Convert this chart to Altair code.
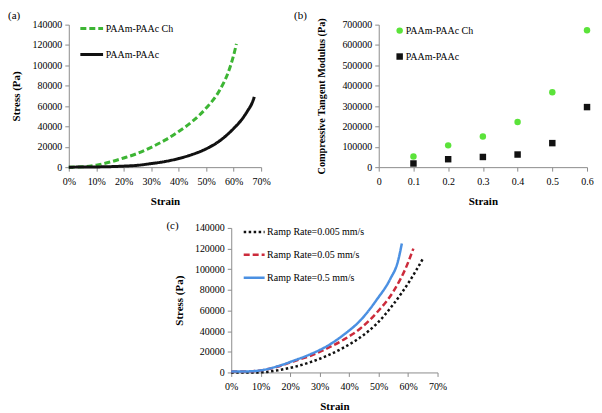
import altair as alt
import pandas as pd

FONT = "Liberation Serif"

# ---------- Panel (a): stress-strain ----------
a_series = ["PAAm-PAAc Ch", "PAAm-PAAc"]
a_ch_strain = [0, 0.05, 0.10, 0.15, 0.20, 0.25, 0.30, 0.35, 0.40, 0.45, 0.50, 0.55, 0.58, 0.60, 0.61]
a_ch_stress = [0, 300, 2000, 5000, 9000, 13500, 19500, 26500, 35000, 45000, 58000, 76000, 93000, 110000, 121000]
a_pl_strain = [0, 0.10, 0.20, 0.25, 0.30, 0.35, 0.40, 0.45, 0.50, 0.55, 0.60, 0.63, 0.65, 0.67, 0.675]
a_pl_stress = [0, 200, 1000, 1800, 3500, 5500, 8500, 12500, 18000, 26000, 38000, 47000, 55000, 65000, 69000]

# ---------- Panel (b): compressive tangent modulus ----------
b_strain = [0.1, 0.2, 0.3, 0.4, 0.5, 0.6]
b_ch_mod = [52000, 107000, 151000, 222000, 368000, 672000]
b_pl_mod = [18000, 39000, 50000, 62000, 118000, 295000]

# ---------- Panel (c): ramp rates ----------
c_series = ["Ramp Rate=0.005 mm/s", "Ramp Rate=0.05 mm/s", "Ramp Rate=0.5 mm/s"]
c1_strain = [0, 0.05, 0.09, 0.156, 0.213, 0.269, 0.325, 0.381, 0.438, 0.494, 0.55, 0.607, 0.652]
c1_stress = [0, 0, 0, 2000, 5300, 10000, 16200, 24000, 34000, 47300, 66000, 89300, 111000]
c2_strain = [0, 0.05, 0.10, 0.156, 0.213, 0.269, 0.325, 0.381, 0.438, 0.494, 0.55, 0.595, 0.618]
c2_stress = [1000, 1000, 2000, 5500, 10900, 16200, 23300, 31700, 42600, 58000, 78400, 103000, 120000]
c3_strain = [0, 0.05, 0.10, 0.156, 0.213, 0.269, 0.325, 0.381, 0.438, 0.494, 0.54, 0.565, 0.579]
c3_stress = [1000, 1000, 2000, 5900, 11500, 17700, 25500, 36400, 50400, 70600, 90800, 107000, 125000]

df_a = pd.concat([
    pd.DataFrame({"strain": a_ch_strain, "stress": a_ch_stress, "series": a_series[0], "o": range(len(a_ch_strain))}),
    pd.DataFrame({"strain": a_pl_strain, "stress": a_pl_stress, "series": a_series[1], "o": range(len(a_pl_strain))}),
])
df_b = pd.concat([
    pd.DataFrame({"strain": b_strain, "mod": b_ch_mod, "series": a_series[0]}),
    pd.DataFrame({"strain": b_strain, "mod": b_pl_mod, "series": a_series[1]}),
])
df_c = pd.concat([
    pd.DataFrame({"strain": c1_strain, "stress": c1_stress, "series": c_series[0], "o": range(len(c1_strain))}),
    pd.DataFrame({"strain": c2_strain, "stress": c2_stress, "series": c_series[1], "o": range(len(c2_strain))}),
    pd.DataFrame({"strain": c3_strain, "stress": c3_stress, "series": c_series[2], "o": range(len(c3_strain))}),
])

AX = dict(domainColor="#8c8c8c", tickColor="#8c8c8c", grid=False, tickSize=4,
          labelFont=FONT, labelFontSize=10, labelColor="black",
          titleFont=FONT, titleFontWeight="bold", titleColor="black")

def pct_x():
    return alt.X("strain:Q", title="Strain",
                 scale=alt.Scale(domain=[0, 0.7], nice=False),
                 axis=alt.Axis(values=[0, 0.1, 0.2, 0.3, 0.4, 0.5, 0.6, 0.7], format=".0%", labelFlush=False,
                               labelPadding=5, titlePadding=9, titleFontSize=11, **AX))

def stress_y(pad):
    return alt.Y("stress:Q", title="Stress (Pa)",
                 scale=alt.Scale(domain=[0, 140000], nice=False),
                 axis=alt.Axis(values=list(range(0, 140001, 20000)), format="d",
                               labelPadding=3, titlePadding=pad, titleFontSize=11, **AX))

def leg(x, y, row, size, sw):
    return alt.Legend(orient="none", legendX=x, legendY=y, title=None, labelFont=FONT,
                      labelFontSize=10, labelColor="black", rowPadding=row, symbolSize=size,
                      symbolStrokeWidth=sw, labelOffset=1)

def ptitle(t, dx, off):
    return alt.Title(t, anchor="start", font=FONT, fontSize=11, fontWeight="normal",
                     color="black", dx=dx, offset=off)

chart_a = alt.Chart(df_a).mark_line(strokeWidth=3, interpolate="monotone").encode(
    x=pct_x(), y=stress_y(10),
    color=alt.Color("series:N", scale=alt.Scale(domain=a_series, range=["#3db534", "#111111"]),
                    legend=leg(10, -9, 7, 520, 3)),
    strokeDash=alt.StrokeDash("series:N", scale=alt.Scale(domain=a_series, range=[[6, 3], [1, 0]]),
                              legend=leg(10, -9, 7, 520, 3)),
    order="o:Q",
).properties(width=193, height=143, title=ptitle("(a)", -3, -5))

chart_b = alt.Chart(df_b).mark_point(filled=True, opacity=1, size=42).encode(
    x=alt.X("strain:Q", title="Strain", scale=alt.Scale(domain=[0, 0.6], nice=False),
            axis=alt.Axis(values=[0, 0.1, 0.2, 0.3, 0.4, 0.5, 0.6], format=".1~f", labelFlush=False,
                          labelPadding=5, titlePadding=9, titleFontSize=11, **AX)),
    y=alt.Y("mod:Q", title="Compressive Tangent Modulus (Pa)", scale=alt.Scale(domain=[0, 700000], nice=False),
            axis=alt.Axis(values=list(range(0, 700001, 100000)), format="d",
                          labelPadding=3, titlePadding=15, titleFontSize=10.3, **AX)),
    color=alt.Color("series:N", scale=alt.Scale(domain=a_series, range=["#5be33a", "#111111"]),
                    legend=leg(16, 1, 16, 42, 0)),
    shape=alt.Shape("series:N", scale=alt.Scale(domain=a_series, range=["circle", "square"]),
                    legend=leg(16, 1, 16, 42, 0)),
).properties(width=209, height=143, title=ptitle("(b)", -23, -3))

chart_c = alt.Chart(df_c).mark_line(strokeWidth=2.5, interpolate="monotone").encode(
    x=pct_x(), y=stress_y(10),
    color=alt.Color("series:N", scale=alt.Scale(domain=c_series, range=["#111111", "#cc2b3b", "#4b90e2"]),
                    legend=leg(11, -8, 6, 440, 2.5)),
    strokeDash=alt.StrokeDash("series:N", scale=alt.Scale(domain=c_series, range=[[2.5, 2.5], [6, 3], [1, 0]]),
                              legend=leg(11, -8, 6, 440, 2.5)),
    order="o:Q",
).properties(width=207, height=145, title=ptitle("(c)", -7, -11))

spacer = alt.Chart(pd.DataFrame({"s": [0]})).mark_point(opacity=0).encode(
    x=alt.X("s:Q", axis=None), y=alt.Y("s:Q", axis=None)
).properties(width=163, height=1)

RES = dict(color="independent", strokeDash="independent", shape="independent")

top = alt.hconcat(chart_a, chart_b, spacing=118, bounds="flush").resolve_scale(**RES).resolve_legend(**RES)
bottom = alt.hconcat(spacer, chart_c, spacing=0, bounds="flush").resolve_scale(**RES).resolve_legend(**RES)
chart = alt.vconcat(top, bottom, spacing=204, bounds="flush").resolve_scale(**RES).resolve_legend(**RES).properties(
    padding={"left": 0, "top": 0, "right": 0, "bottom": 0}, background="white"
).configure_view(stroke="transparent", strokeWidth=0)

chart.save("out.html", embed_options={"renderer": "svg", "actions": False})
